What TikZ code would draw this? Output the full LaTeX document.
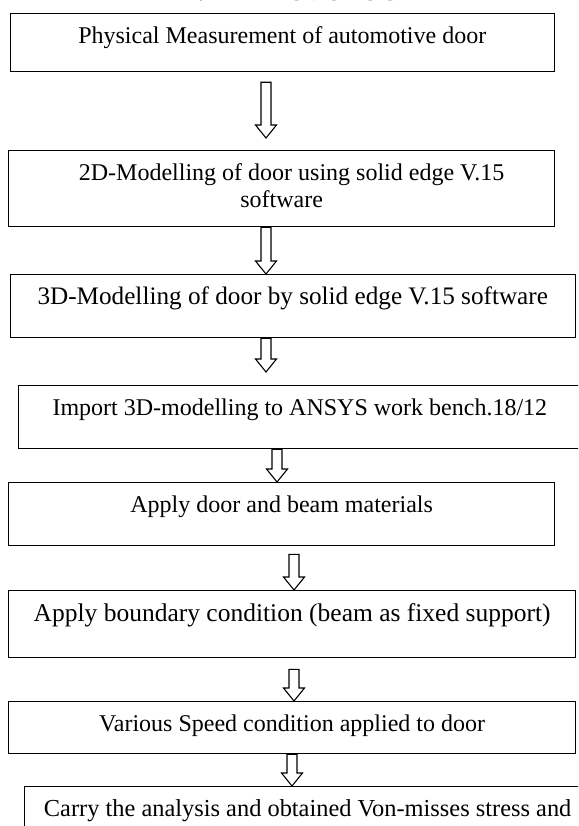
\documentclass[tikz,border=0pt]{standalone}
\usepackage{fontspec}
\setmainfont{Liberation Serif}
\usetikzlibrary{%
  calc,%
  positioning% wg. " of "
}

\begin{document}
\begin{tikzpicture}
[x=1pt, y=-1pt, font=\fontsize{24}{27}\selectfont, draw=black,
stage/.style={rectangle, draw, line width=1.3pt, anchor=north west, inner xsep=0pt, inner ysep=0pt, text height=30pt, align=center},
blockarrow/.style={draw, line width=1.1pt, line join=miter, fill=white}]

\useasboundingbox (0,0) rectangle (578,826);
\clip (0,0) rectangle (578,826);

% section heading, cut off at the page top
\node[font=\bfseries\fontsize{25}{28}\selectfont, anchor=base] (title) at (298,1) {II. METHODOLOGY};

\node[stage, minimum width=544pt, text depth=28pt] (step1) at (9.6,13)  {Physical Measurement of automotive door};
\node[stage, minimum width=546pt, text height=57pt, text depth=19pt] (step2) at (8,150) {\hspace*{20pt}2D-Modelling of door using solid edge V.15\\software};
\node[stage, minimum width=565pt, text depth=33pt, font=\fontsize{25.2}{28}\selectfont] (step3) at (9.6,274) {3D-Modelling of door by solid edge V.15 software};
\node[stage, minimum width=563pt, text depth=33pt] (step4) at (17.7,385) {Import 3D-modelling to ANSYS work bench.18/12};
\node[stage, minimum width=546pt, text depth=33pt] (step5) at (8,482)   {Apply door and beam materials};
\node[stage, minimum width=567pt, text depth=36pt, text height=31pt, font=\fontsize{25.5}{28}\selectfont] (step6) at (8,590) {Apply boundary condition (beam as fixed support)};
\node[stage, minimum width=567pt, text depth=22pt] (step7) at (8,701)   {Various Speed condition applied to door};
\node[stage, minimum width=566pt, text depth=40pt, font=\fontsize{24.4}{28}\selectfont] (step8) at (24,786) {Carry the analysis and obtained Von-misses stress and};

%\node (cont) at (300,840) {...};

% hollow arrows: from/to/x/gap below/gap above
\foreach \s/\t/\x/\ga/\gb in {step1/step2/266/10/12, step2/step3/266/0/0, step3/step4/266/0/13, step4/step5/277/0/0, step5/step6/294/8/0, step6/step7/294/11/0, step7/step8/292/0/0} {
  \coordinate (p) at (\x,0 |- \s.south);
  \coordinate (q) at (\x,0 |- \t.north);
  \draw[blockarrow] ([shift={(-5,\ga)}]p) -- ([shift={(-5,-13-\gb)}]q) -- ++(-5.5,0)
    -- ([shift={(0,-\gb)}]q) -- ([shift={(10.5,-13-\gb)}]q) -- ++(-5.5,0)
    -- ([shift={(5,\ga)}]p) -- cycle;
}
\end{tikzpicture}
\end{document}
